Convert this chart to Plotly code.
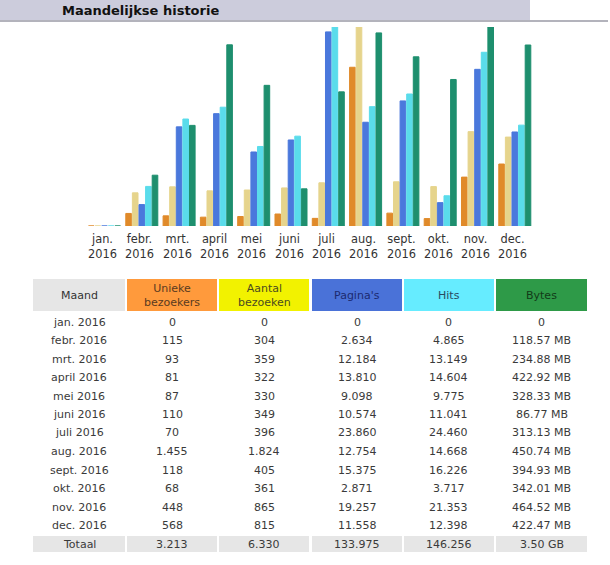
import plotly.graph_objects as go

months = ["jan.", "febr.", "mrt.", "april", "mei", "juni", "juli",
          "aug.", "sept.", "okt.", "nov.", "dec."]
year = "2016"
unique = [0, 115, 93, 81, 87, 110, 70, 1455, 118, 68, 448, 568]
visits = [0, 304, 359, 322, 330, 349, 396, 1824, 405, 361, 865, 815]
pages = [0, 2634, 12184, 13810, 9098, 10574, 23860, 12754, 15375, 2871, 19257, 11558]
hits = [0, 4865, 13149, 14604, 9775, 11041, 24460, 14668, 16226, 3717, 21353, 12398]
bytes_mb = [0, 118.57, 234.88, 422.92, 328.33, 86.77, 313.13, 450.74, 394.93, 342.01, 464.52, 422.47]

headers = ["Maand", "Unieke<br>bezoekers", "Aantal<br>bezoeken", "Pagina's", "Hits", "Bytes"]
header_fill = ["#E6E6E6", "#FF9A3C", "#F2F200", "#4A72D8", "#66ECFF", "#2E9A48"]
header_text = ["#333333", "#5a3a20", "#4a4a20", "#1c2a70", "#2a4a60", "#123a18"]
bar_colors = ["#E08A2A", "#E6D48C", "#4A78DC", "#5ADCEB", "#1E8F6E"]

W, H = 610, 565


def px_x(p):
    return p / W


def px_y(p):
    return 1 - p / H


def dutch(n):
    return f"{n:,}".replace(",", ".")


def fmt_mb(v):
    return "0" if v == 0 else f"{v:.2f} MB"


fig = go.Figure()

# bar geometry (axis units)
pitch = 37.3
bw = 6.6 / pitch
x_left = 104.5 - pitch / 2
x_right = x_left + 12 * pitch
xs = list(range(12))

series = [(unique, "y"), (visits, "y"), (pages, "y2"), (hits, "y2"), (bytes_mb, "y3")]
for k, (vals, ya) in enumerate(series):
    fig.add_trace(go.Bar(
        x=xs, y=vals, yaxis=ya, width=bw * 0.85,
        offset=-2.5 * bw + k * bw + bw * 0.075,
        marker=dict(color=bar_colors[k], line=dict(color=bar_colors[k], width=1)),
        showlegend=False, hoverinfo="skip"))

ydom = [px_y(226), px_y(27)]
fig.update_layout(
    width=W, height=H, margin=dict(l=0, r=0, t=0, b=0),
    paper_bgcolor="white", plot_bgcolor="rgba(0,0,0,0)",
    barmode="overlay",
    xaxis=dict(domain=[px_x(x_left), px_x(x_right)], range=[-0.5, 11.5],
               showgrid=False, zeroline=False, showticklabels=False, fixedrange=True),
    yaxis=dict(domain=ydom, range=[0, max(visits)], visible=False),
    yaxis2=dict(domain=ydom, range=[0, max(hits)], overlaying="y", visible=False),
    yaxis3=dict(domain=ydom, range=[0, max(bytes_mb)], overlaying="y", visible=False),
    font=dict(family="DejaVu Sans", size=11, color="#333333"),
)

# month labels
for i, m in enumerate(months):
    fig.add_annotation(x=i - 0.05, y=px_y(229.5), xref="x", yref="paper",
                       text=f"{m}<br>{year}", showarrow=False, yanchor="top",
                       font=dict(size=11.4, color="#333333"), align="center")

# header band
fig.add_shape(type="rect", xref="paper", yref="paper", x0=0, x1=px_x(530),
              y0=px_y(20), y1=1, fillcolor="#CCCCDC", line_width=0, layer="below")
fig.add_shape(type="line", xref="paper", yref="paper", x0=0, x1=px_x(608),
              y0=px_y(21), y1=px_y(21), line=dict(color="#9a9aa6", width=1.5))
fig.add_annotation(x=px_x(60), y=px_y(10.5), xref="paper", yref="paper",
                   text="<b>Maandelijkse historie</b>", showarrow=False,
                   xanchor="left", yanchor="middle",
                   font=dict(size=13, color="#111111"))

# table built from shapes + text
col_month = [f"{m} {year}" for m in months] + ["Totaal"]
col_u = [dutch(v) for v in unique] + [dutch(sum(unique))]
col_v = [dutch(v) for v in visits] + [dutch(sum(visits))]
col_p = [dutch(v) for v in pages] + [dutch(sum(pages))]
col_h = [dutch(v) for v in hits] + [dutch(sum(hits))]
col_b = [fmt_mb(v) for v in bytes_mb] + [f"{sum(bytes_mb) / 1024:.2f} GB"]
columns = [col_month, col_u, col_v, col_p, col_h, col_b]

col_bounds = [(33, 125), (127, 217), (219, 309), (312, 402), (404, 494), (496, 587)]
head_top, head_bot = 279, 311
row0, row_pitch = 322, 18.5

for c, (x0, x1) in enumerate(col_bounds):
    fig.add_shape(type="rect", xref="paper", yref="paper",
                  x0=px_x(x0), x1=px_x(x1), y0=px_y(head_bot), y1=px_y(head_top),
                  fillcolor=header_fill[c], line_width=0, layer="below")
    fig.add_annotation(x=px_x((x0 + x1) / 2), y=px_y((head_top + head_bot) / 2),
                       xref="paper", yref="paper", text=headers[c], showarrow=False,
                       xanchor="center", yanchor="middle", align="center",
                       font=dict(size=11, color=header_text[c]))
    nrows = len(columns[c])
    # totals row background
    ty = row0 + (nrows - 1) * row_pitch
    fig.add_shape(type="rect", xref="paper", yref="paper",
                  x0=px_x(x0), x1=px_x(x1), y0=px_y(ty + 8), y1=px_y(ty - 8),
                  fillcolor="#E6E6E6", line_width=0, layer="below")
    for r, txt in enumerate(columns[c]):
        fig.add_annotation(x=px_x((x0 + x1) / 2), y=px_y(row0 + r * row_pitch),
                           xref="paper", yref="paper", text=txt, showarrow=False,
                           xanchor="center", yanchor="middle",
                           font=dict(size=11, color="#3a3a3a"))

fig.write_html("out.html")
